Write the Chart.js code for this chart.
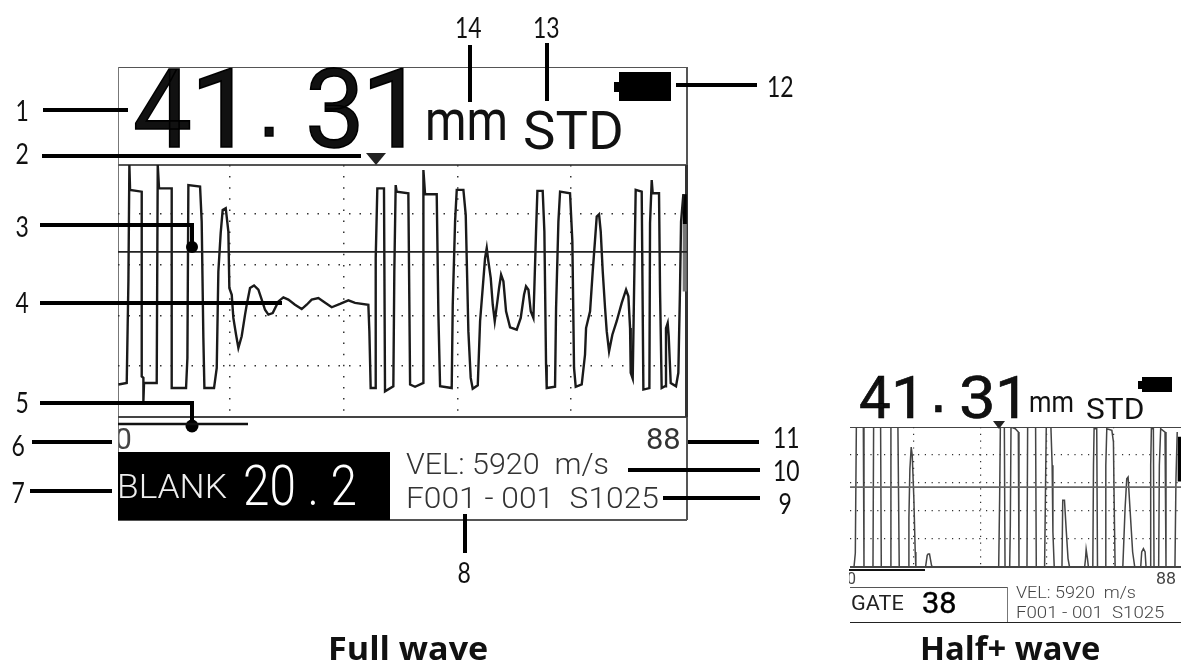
<!DOCTYPE html>
<html><head><meta charset="utf-8">
<script src="https://cdn.jsdelivr.net/npm/chart.js@4"></script>
<style>
html,body{margin:0;padding:0;background:#fff;width:1181px;height:664px;overflow:hidden}
#stage{position:relative;width:1181px;height:664px;overflow:hidden}
canvas{position:absolute}
.t{position:absolute;white-space:pre;line-height:1;font-family:Roboto,"Liberation Sans",Arial,sans-serif;color:#111;transform-origin:0 50%}
.n{font-family:Lato,"Open Sans",sans-serif;color:#111}
.h{font-family:"Open Sans",Lato,sans-serif;color:#111;font-weight:700}
.b{position:absolute}
svg{position:absolute;left:0;top:0}
</style></head><body>
<div id="stage">
<canvas id="full" style="left:118px;top:165px"></canvas>
<canvas id="half" style="left:850px;top:427px"></canvas>
<svg id="ov" width="1181" height="664"></svg>
</div>
<script>
// Full-wave trace (range axis in mm, amplitude in % of screen height)
const fullX=[0.36,1.65,1.91,2.06,2.17,3.97,3.97,4.23,4.23,4.33,6.29,6.45,6.65,8.61,8.61,10.83,11.04,11.19,13.0,13.25,13.51,13.67,15.16,15.58,15.83,16.19,16.5,16.97,17.38,17.53,17.9,18.15,18.57,18.93,19.44,19.96,20.22,20.73,21.35,22.02,22.54,23.05,23.57,24.24,25.12,25.89,26.66,27.69,28.73,29.5,30.27,31.31,32.08,33.37,34.66,35.95,36.98,39.04,39.2,39.4,40.07,40.18,40.43,41.46,41.62,42.91,43.06,43.27,43.42,45.23,45.5,46.27,47.56,47.56,47.82,49.62,49.88,50.14,51.94,52.1,52.46,52.72,53.75,54.11,54.52,54.88,55.19,55.97,56.33,56.74,57.1,57.36,57.62,57.98,58.29,58.6,59.01,59.27,59.58,59.94,60.35,60.97,62.0,62.62,63.13,63.44,63.81,64.17,64.58,64.73,64.99,65.2,66.02,66.28,66.54,66.64,67.93,68.09,68.45,68.71,70.25,70.61,70.87,71.13,72.06,72.57,72.73,73.35,73.76,74.12,74.38,74.74,75.0,75.31,75.67,75.93,76.29,76.8,77.47,78.25,78.92,79.28,79.54,79.64,79.95,80.15,80.41,81.34,81.6,82.53,82.63,82.89,83.04,84.02,84.18,84.43,84.95,85.1,85.36,85.52,85.83,86.65,87.01,87.27,87.43,87.79];
const fullY=[12.8,13.4,53.4,99.2,89.4,88.7,16.0,15.4,6.2,13.4,13.4,99.2,90.0,90.0,11.4,11.4,23.2,91.3,90.7,76.9,31.1,11.4,11.4,19.3,57.3,72.4,81.5,82.2,73.0,50.8,48.1,39.0,32.4,27.2,31.8,40.3,44.2,50.8,51.8,50.1,46.2,42.2,40.3,40.9,45.5,47.1,46.2,44.2,42.5,44.2,46.2,46.8,45.5,43.2,44.5,45.9,44.9,44.2,33.7,11.4,11.4,62.5,90.0,90.0,10.1,12.1,57.3,91.3,88.7,88.1,12.8,11.9,13.4,97.2,87.7,87.7,40.3,12.1,11.4,44.2,76.9,89.4,89.4,79.6,33.7,15.4,11.1,12.5,37.7,50.8,62.5,66.5,61.2,54.7,44.2,37.7,45.5,50.8,56.0,53.4,41.6,35.3,34.4,39.0,48.1,51.4,50.1,41.6,39.0,50.8,73.0,89.0,89.0,73.0,20.6,11.4,11.9,42.9,76.9,88.7,88.1,69.1,19.3,11.9,12.8,24.6,35.0,41.6,57.3,69.7,78.9,79.8,73.0,57.3,42.9,33.7,25.9,32.4,37.7,44.9,50.1,47.5,35.0,17.4,15.1,48.1,89.4,88.7,10.8,11.4,76.3,93.3,88.1,88.1,49.4,11.4,12.1,35.0,37.0,31.8,13.4,12.1,17.4,50.8,76.9,87.7];
// Half+ wave trace
const halfX=[0.7,1.76,2.11,2.38,4.23,4.4,6.78,6.95,8.8,8.98,11.36,11.53,13.38,13.73,16.11,16.29,16.55,16.9,17.17,17.6,17.96,18.13,20.69,21.13,21.39,21.74,22.27,22.54,40.05,40.3,40.49,41.55,41.73,42.96,43.13,43.31,44.45,45.25,45.42,47.54,47.71,49.82,50,52.2,52.38,52.64,53.87,54.2,54.4,54.75,56.8,57.0,57.46,57.9,58.4,58.8,62.8,63.03,63.2,63.55,63.8,64.96,65.14,65.3,66.0,66.2,68.2,68.4,68.66,70,70.42,70.6,70.86,72.9,73.5,73.94,74.3,74.8,75.5,76.06,77.64,77.9,78.35,78.8,79.05,80.1,80.28,80.46,80.99,81.16,82.39,82.57,82.92,84.07,84.33,86.7,86.97,87.3];
const halfY=[0,0,10,100,100,0,0,100,100,0,0,100,100,0,0,35,70,85.7,79.8,48.8,10.7,0,0,8.3,9.3,9.3,1.2,0,0,48.8,100,100,0,0,29.8,100,98.8,96.4,0,0,100,100,0,0,41.7,100,100,72.6,25,0,0,47.6,47.6,27.4,6,0,0,6,12.6,6,0,0,72.6,98.8,98.8,0,0,72.6,98.8,97.6,89.3,48.8,0,0,41.7,63,64.3,41.7,10.7,0,0,10.7,13.1,10.7,0,0,72.6,98.8,98.8,0,0,72.6,98.8,96.4,0,0,63,96.4];
const gateFull=[65,65];
const gateHalf=[57,57];
const rangeEnds=[0,88.4];
const edgeFullX=[88.0,88.0], edgeFullBlack=[87.7,76], edgeFullGrey=[76,49.4];
const edgeHalfX=[87.95,87.95], edgeHalfBlack=[93,61], edgeHalfGrey=[61,61];
const divisionsX=[17.6,35.2,52.8,70.4];
const divisionsY=[20,40,60,80];

function pts(xs,ys){return xs.map((x,i)=>({x,y:ys[i]}));}
function mk(id,w,h,xs,ys,xmin,xmax,ymax,lw,gate,edgeK,edgeG,gateCol,traceCol,dotW){
  const c=document.getElementById(id);
  c.width=w;c.height=h;c.style.width=w+'px';c.style.height=h+'px';
  return new Chart(c,{type:'scatter',
    data:{datasets:[
      {data:pts(rangeEnds,gate),showLine:true,pointRadius:0,borderColor:gateCol,borderWidth:1.8},
      {data:pts(xs,ys),showLine:true,pointRadius:0,borderColor:traceCol,borderWidth:lw,tension:0},
      {data:pts(id==='full'?edgeFullX:edgeHalfX,edgeG),showLine:true,pointRadius:0,borderColor:'#777',borderWidth:4,borderCapStyle:'butt'},
      {data:pts(id==='full'?edgeFullX:edgeHalfX,edgeK),showLine:true,pointRadius:0,borderColor:'#000',borderWidth:4,borderCapStyle:'butt'}
    ]},
    options:{responsive:false,animation:false,devicePixelRatio:1,
      layout:{padding:0},
      plugins:{legend:{display:false},tooltip:{enabled:false}},
      scales:{
        x:{type:'linear',min:xmin,max:xmax,afterBuildTicks:a=>{a.ticks=divisionsX.map(v=>({value:v}));},
           ticks:{display:false},border:{display:false,dash:[dotW,h>200?9.6:5.6]},
           grid:{color:'#333',lineWidth:dotW,drawTicks:false}},
        y:{type:'linear',min:0,max:ymax,afterBuildTicks:a=>{a.ticks=divisionsY.map(v=>({value:v}));},
           ticks:{display:false},border:{display:false,dash:[dotW,h>200?9:5.6]},
           grid:{color:'#333',lineWidth:dotW,drawTicks:false}}
      }}});
}
mk('full',569,252,fullX,fullY,0.3,88.35,99.2,2.4,gateFull,edgeFullBlack,edgeFullGrey,'#222','#1a1a1a',1.5);
mk('half',331,140,halfX,halfY,0.7,88.3,100,1.5,gateHalf,edgeHalfBlack,edgeHalfGrey,'#666','#444',1.2);

// overlay text and decoration
const stage=document.getElementById('stage');
function T(s,x,yc,size,o={}){ // x = left edge, yc = vertical centre, o.w = target width
  const d=document.createElement('div');d.className=o.cls||'t';d.textContent=s;
  d.style.fontSize=size+'px';d.style.left=x+'px';d.style.top=yc+'px';
  if(o.color)d.style.color=o.color;
  if(o.font)d.style.fontFamily=o.font;
  if(o.weight)d.style.fontWeight=o.weight;
  if(o.stroke)d.style.webkitTextStroke=o.stroke+'px '+(o.color||'#000');
  if(o.clip)d.style.clipPath=o.clip;
  stage.appendChild(d);
  const nat=d.offsetWidth; const sx=o.w?o.w/nat:(o.sx||1);
  const dx=o.center?-nat*sx/2:0;
  d.style.transform=`translate(${dx}px,-50%) scaleX(${sx})`;
  return d;}
function R(x,y,w,h,c){const d=document.createElement('div');d.className='b';
  d.style.cssText+=`left:${x}px;top:${y}px;width:${w}px;height:${h}px;background:${c}`;
  stage.insertBefore(d,document.getElementById('full'));return d;}
// Frames
R(118,67,569,1,'#555');R(118,67,1,453,'#777');R(686,67,1.5,453,'#555');R(118,519,569,2,'#555');
R(118,164,569,2,'#555');R(118,416,569,2,'#444');R(685,165,2.5,252,'#333');
R(118,452,272,68,'#000');
R(850,427,331,1.3,'#444');R(850,566,331,1.5,'#444');
R(850,587,157,1.2,'#555');R(1006.5,587,1.2,36,'#777');R(850,622,331,1.4,'#222');
// Battery
R(619,72,52,29,'#000');R(614,82,6,10,'#000');
R(1142,377,30,15,'#000');R(1138,381,5,8,'#000');

// Large readouts
const sq='"Liberation Sans",Arial,sans-serif';
T('4',133,110,110,{w:59,stroke:1.6});T('1',190,110,110,{w:66,stroke:1.6});T('.',258,109,80,{stroke:1.5,font:sq});
T('3',305,110,110,{w:60,stroke:1.6});T('1',361,110,110,{w:66,stroke:1.6});
T('mm',425,120,57,{w:83});T('STD',523,131,53,{w:101});
T('0',115,439,30,{color:'#444',clip:'inset(0 0 0 22%)'});T('88',646,439,30,{w:35,color:'#333'});
T('BLANK',117,486,34,{w:110,color:'#eee',weight:300});T('20 . 2',243,486,56,{w:114,color:'#fff',weight:300});
T('VEL: 5920  m/s',406,464,30,{w:203,color:'#333',weight:300});T('F001 - 001  S1025',406,498,30,{w:253,color:'#333',weight:300});

T('4',859,398,60,{w:32,stroke:.6});T('1',891,398,60,{w:35,stroke:.6});T('.',930,392,60,{stroke:.6,font:sq});
T('3',959,398,60,{w:37,stroke:.6});T('1',995,398,60,{w:35,stroke:.6});
T('mm',1029,402,29,{w:45});T('STD',1086,409,30,{w:58});
T('0',847,579,16,{color:'#444',clip:'inset(0 0 0 22%)'});T('88',1156,579,16,{w:20,color:'#444'});
T('GATE',851,603,20,{w:53,color:'#222'});T('38',922,603,29,{w:35,color:'#000',stroke:.4});
T('VEL: 5920  m/s',1016,593,16.5,{w:120,color:'#444',weight:300});T('F001 - 001  S1025',1016,612,17,{w:148,color:'#444',weight:300});

// Callout numbers
const calloutText=['1','2','3','4','5','6','7','8','9','10','11','12','13','14'];
const calloutX=[22,22,22,22,22,18,18,464,785,786,786,780,546,468];
const calloutY=[110,153,226,302,402,445,492,572,503,470,437,86,27,27];
calloutText.forEach((s,i)=>T(s,calloutX[i],calloutY[i],28,{cls:'t n',center:true,sx:.82}));
T('Full wave',328,648,32,{cls:'t h',w:160});
T('Half+ wave',920,648,32,{cls:'t h',w:180});

// Leader lines
const segs=[[43,110,128,110],[42,156,361,156],[40,225,194,225],[192,225,192,247],[40,303,282,303],[40,403,194,403],[192,403,192,426],
[32,442,112,442],[30,491,112,491],[465,514,465,553],[663,498,760,498],[628,470,760,470],[688,442,759,442],[676,85,757,85],[547,43,547,101],[470,45,470,102]];
const ov=document.getElementById('ov');let h='';
segs.forEach(s=>{h+=`<line x1="${s[0]}" y1="${s[1]}" x2="${s[2]}" y2="${s[3]}" stroke="#000" stroke-width="4"/>`;});
h+='<circle cx="192" cy="247" r="6" fill="#000"/><circle cx="192" cy="426" r="6.5" fill="#000"/>';
h+='<polygon points="366,153 386,153 376,165" fill="#222"/><polygon points="993,421 1005,421 999,429" fill="#222"/>';
h+='<line x1="118" y1="424" x2="248" y2="424" stroke="#111" stroke-width="2.6"/>';
h+='<line x1="849" y1="570" x2="925" y2="570" stroke="#111" stroke-width="1.8"/>';
ov.innerHTML=h;
</script>
</body></html>
